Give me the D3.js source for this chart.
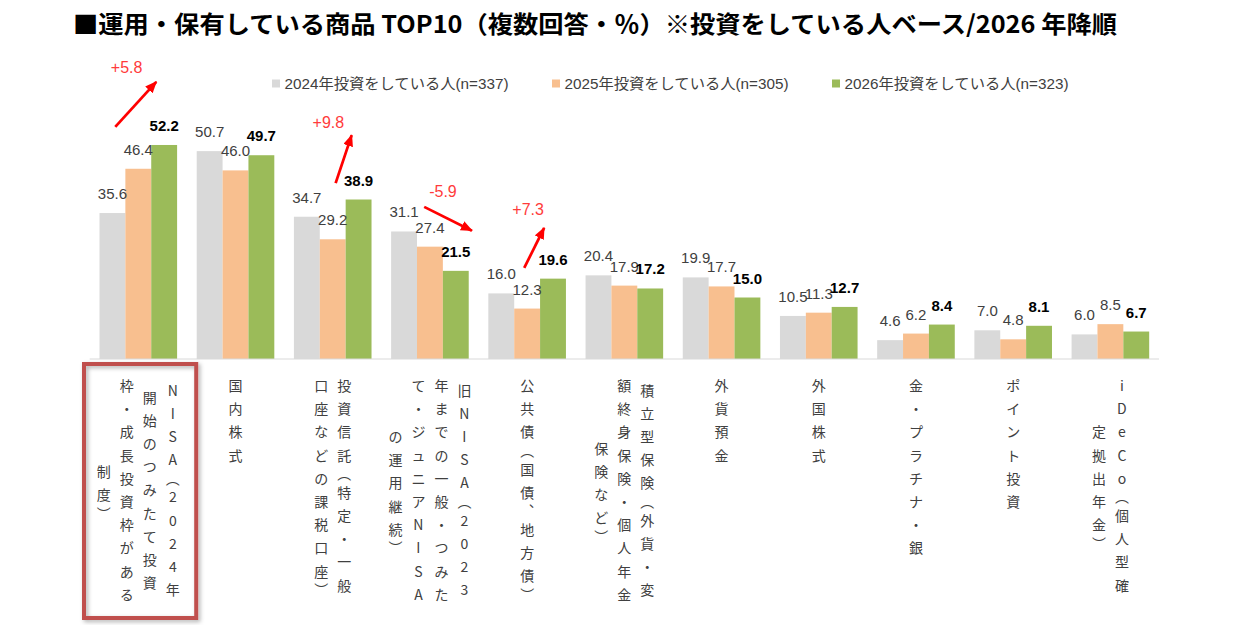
<!DOCTYPE html>
<html>
<head>
<meta charset="utf-8">
<script src="https://cdn.jsdelivr.net/npm/d3@7"></script>
<style>
  body { margin: 0; background: #fff; }
  svg text { font-family: "Liberation Sans", "Noto Sans CJK JP", sans-serif; }
</style>
</head>
<body>
<div id="chart"></div>
<script>
// category labels, one string per vertical column (read right to left)
const categoryLines = [
    ["NISA（2024年", "開始のつみたて投資", "枠・成長投資枠がある", "制度）"],
    ["国内株式"],
    ["投資信託（特定・一般", "口座などの課税口座）"],
    ["旧NISA（2023", "年までの一般・つみた", "て・ジュニアNISA", "の運用継続）"],
    ["公共債（国債、地方債）"],
    ["積立型保険（外貨・変", "額終身保険・個人年金", "保険など）"],
    ["外貨預金"],
    ["外国株式"],
    ["金・プラチナ・銀"],
    ["ポイント投資"],
    ["iDeCo（個人型確", "定拠出年金）"]
];
const categories = categoryLines.map(d => d.join(""));

const seriesNames = ["2024年投資をしている人(n=337)", "2025年投資をしている人(n=305)", "2026年投資をしている人(n=323)"];
const values2024 = [35.6, 50.7, 34.7, 31.1, 16.0, 20.4, 19.9, 10.5, 4.6, 7.0, 6.0];
const values2025 = [46.4, 46.0, 29.2, 27.4, 12.3, 17.9, 17.7, 11.3, 6.2, 4.8, 8.5];
const values2026 = [52.2, 49.7, 38.9, 21.5, 19.6, 17.2, 15.0, 12.7, 8.4, 8.1, 6.7];

// change 2024 -> 2026 called out with red arrows
const deltaCategories = [0, 2, 3, 4];
const deltaLabels = ["+5.8", "+9.8", "-5.9", "+7.3"];

const titleText = "■運用・保有している商品 TOP10（複数回答・％）※投資をしている人ベース/2026 年降順";

const colors = ["#d9d9d9", "#f8bf8f", "#9bbb59"];

const svg = d3.select("#chart").append("svg")
    .attr("width", 1241)
    .attr("height", 625);

const defs = svg.append("defs");
defs.append("marker")
    .attr("id", "arrow")
    .attr("markerUnits", "userSpaceOnUse")
    .attr("markerWidth", 12)
    .attr("markerHeight", 10)
    .attr("refX", 11)
    .attr("refY", 5)
    .attr("orient", "auto")
    .append("path")
    .attr("d", "M0,0 L12,5 L0,10 Z")
    .attr("fill", "#ff0000");

const shadow = defs.append("filter").attr("id", "shadow")
    .attr("x", "-10%").attr("y", "-10%").attr("width", "130%").attr("height", "130%");
shadow.append("feDropShadow")
    .attr("dx", 2).attr("dy", 2).attr("stdDeviation", 2)
    .attr("flood-color", "#000").attr("flood-opacity", 0.3);

// title
svg.append("text")
    .attr("x", 73)
    .attr("y", 33)
    .style("font-family", "'Noto Sans CJK JP', sans-serif")
    .attr("font-size", 24)
    .attr("font-weight", "bold")
    .attr("fill", "#000")
    .attr("textLength", 1044)
    .attr("lengthAdjust", "spacingAndGlyphs")
    .text(titleText);

const baseY = 359;
const x0 = d3.scaleBand()
    .domain(categories)
    .range([89.7, 1159]);

const x1 = d3.scaleBand()
    .domain(seriesNames)
    .range([9.8, 87.4]);

const y = d3.scaleLinear()
    .domain([0, 60])
    .range([baseY, baseY - 246]);

const table = categories.map((c, i) => ({
    category: c,
    lines: categoryLines[i],
    values: [values2024[i], values2025[i], values2026[i]].map((v, s) => ({ series: seriesNames[s], s: s, value: v }))
}));

// legend
const legend = svg.selectAll(".legend")
    .data(seriesNames)
    .enter().append("g")
    .attr("class", "legend")
    .attr("transform", (d, i) => `translate(${272 + i * 280},0)`);

legend.append("rect")
    .attr("x", 0)
    .attr("y", 79.5)
    .attr("width", 8)
    .attr("height", 8)
    .attr("fill", (d, i) => colors[i]);

legend.append("text")
    .attr("x", 12.5)
    .attr("y", 89)
    .attr("font-size", 15)
    .attr("fill", "#404040")
    .attr("textLength", 224)
    .attr("lengthAdjust", "spacingAndGlyphs")
    .text(d => d);

// bars
const groups = svg.selectAll(".group")
    .data(table)
    .enter().append("g")
    .attr("class", "group")
    .attr("transform", d => `translate(${x0(d.category)},0)`);

groups.selectAll("rect")
    .data(d => d.values)
    .enter().append("rect")
    .attr("x", d => x1(d.series))
    .attr("y", d => y(d.value))
    .attr("width", x1.bandwidth())
    .attr("height", d => y(0) - y(d.value))
    .attr("fill", d => colors[d.s]);

groups.selectAll(".value")
    .data(d => d.values)
    .enter().append("text")
    .attr("class", "value")
    .attr("x", d => x1(d.series) + x1.bandwidth() / 2)
    .attr("y", d => y(d.value) - 14)
    .attr("text-anchor", "middle")
    .attr("font-size", 15)
    .attr("font-weight", d => d.s === 2 ? "bold" : "normal")
    .attr("fill", d => d.s === 2 ? "#000" : "#404040")
    .text(d => d.value.toFixed(1));

// x axis line
svg.append("line")
    .attr("x1", x0.range()[0])
    .attr("x2", x0.range()[1])
    .attr("y1", y(0))
    .attr("y2", y(0))
    .attr("stroke", "#d9d9d9")
    .attr("stroke-width", 1);

// vertical category labels (brackets and commas take a shorter step)
const vert = { "（": "︵", "）": "︶", "、": "︑" };
const colGap = 23, charGap = 23.2, labelTop = baseY + 26;
const advance = c => vert[c] ? 0.6 : 1;

groups.each(function(d) {
    const g = d3.select(this);
    const cx = x0.bandwidth() / 2;
    const colLen = l => d3.sum(Array.from(l), advance);
    const maxLen = d3.max(d.lines, colLen);
    d.lines.forEach((line, j) => {
        const chars = Array.from(line);
        const colX = cx + (d.lines.length - 1) / 2 * colGap - j * colGap;
        const start = labelTop + (maxLen - colLen(line)) / 2 * charGap;
        let acc = 0;
        const pos = chars.map(c => {
            const a = advance(c);
            const p = start + (acc + a / 2 - 0.5) * charGap;
            acc += a;
            return p;
        });
        g.selectAll(`.col${j}`)
            .data(chars)
            .enter().append("text")
            .attr("class", `col${j}`)
            .attr("x", colX)
            .attr("y", (c, k) => pos[k])
            .attr("text-anchor", "middle")
            .attr("dominant-baseline", "central")
            .style("font-family", "'Noto Sans CJK JP', sans-serif")
            .attr("font-size", 14)
            .attr("fill", "#404040")
            .text(c => vert[c] || c);
    });
});

// highlight box round the first category label
svg.append("rect")
    .attr("x", x0(categories[0]) - 5.7)
    .attr("y", baseY + 5)
    .attr("width", x0.bandwidth() + 15)
    .attr("height", 254)
    .attr("fill", "none")
    .attr("stroke", "#c0504d")
    .attr("stroke-width", 4)
    .attr("filter", "url(#shadow)");

// arrows: offsets as band fraction / value units
const arrowLayout = [
    { from: [-0.237, 56.6], to: [0.185, 67.6], label: [-0.12, 69.8] },
    { from: [0.03, 42.9], to: [0.195, 54.6], label: [-0.045, 56.4] },
    { from: [-0.059, 37.1], to: [0.432, 31.3], label: [0.134, 39.5] },
    { from: [-0.03, 22.2], to: [0.175, 32.0], label: [0.01, 35.1] }
];

deltaCategories.forEach((ci, i) => {
    const c = x0(categories[ci]) + x0.bandwidth() / 2;
    const a = arrowLayout[i];
    svg.append("line")
        .attr("x1", c + a.from[0] * x0.step())
        .attr("y1", y(a.from[1]))
        .attr("x2", c + a.to[0] * x0.step())
        .attr("y2", y(a.to[1]))
        .attr("stroke", "#ff0000")
        .attr("stroke-width", 2.75)
        .attr("marker-end", "url(#arrow)");
    svg.append("text")
        .attr("x", c + a.label[0] * x0.step())
        .attr("y", y(a.label[1]))
        .attr("text-anchor", "middle")
        .attr("font-size", 16)
        .attr("fill", "#ff3b3b")
        .text(deltaLabels[i]);
});
</script>
</body>
</html>
